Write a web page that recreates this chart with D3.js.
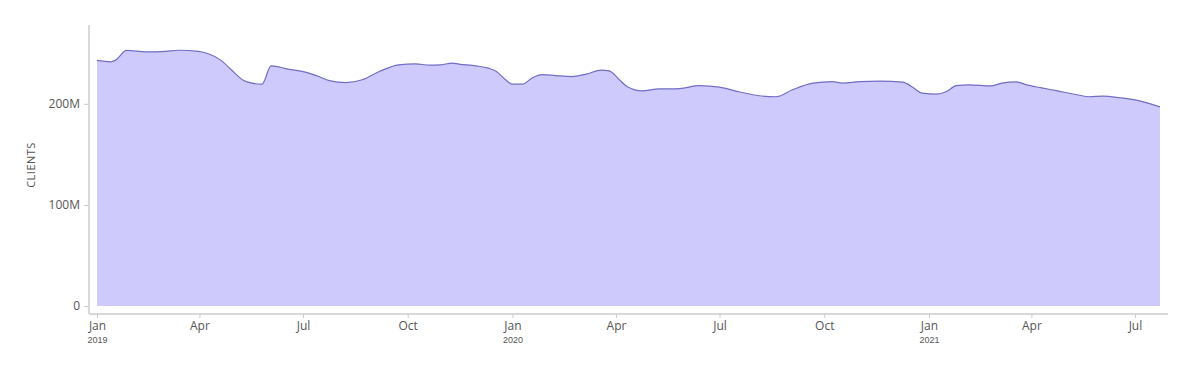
<!DOCTYPE html>
<html>
<head>
<meta charset="utf-8">
<script src="https://cdn.jsdelivr.net/npm/d3@7.9.0/dist/d3.min.js"></script>
<style>
  body { margin: 0; background: #fff; }
  svg { display: block; font-family: "Open Sans", sans-serif; }
  .tick text { fill: #555; }
</style>
</head>
<body>
<div id="chart"></div>
<script>
// Values (clients, millions)
const dates = [
  '2019-01-01', '2019-01-13', '2019-01-17', '2019-01-27', '2019-02-13', '2019-03-02',
  '2019-03-14', '2019-03-31', '2019-04-09', '2019-04-20', '2019-04-29', '2019-05-10',
  '2019-05-17', '2019-05-26', '2019-06-03', '2019-06-18', '2019-07-03', '2019-07-15',
  '2019-07-24', '2019-08-08', '2019-08-22', '2019-09-06', '2019-09-23', '2019-10-08',
  '2019-10-20', '2019-10-30', '2019-11-09', '2019-11-15', '2019-11-30', '2019-12-11',
  '2019-12-18', '2019-12-26', '2020-01-01', '2020-01-10', '2020-01-18', '2020-01-27',
  '2020-02-08', '2020-02-22', '2020-03-06', '2020-03-19', '2020-03-26', '2020-04-04',
  '2020-04-11', '2020-04-24', '2020-05-09', '2020-05-18', '2020-05-27', '2020-06-13',
  '2020-07-01', '2020-07-18', '2020-08-05', '2020-08-20', '2020-09-03', '2020-09-21',
  '2020-10-08', '2020-10-17', '2020-11-01', '2020-11-19', '2020-12-09', '2020-12-17',
  '2020-12-26', '2021-01-08', '2021-01-16', '2021-01-25', '2021-02-05', '2021-02-25',
  '2021-03-06', '2021-03-19', '2021-03-27', '2021-04-10', '2021-04-23', '2021-05-11',
  '2021-05-22', '2021-06-03', '2021-06-18', '2021-07-05', '2021-07-23'
];
const clients = [
  243, 241.6, 243, 252.8, 251.5, 252,
  253, 252, 249.5, 243, 233.7, 223,
  220.5, 219.5, 237.6, 234.3, 231.4, 227,
  223, 221, 223.8, 232, 238.6, 239.6,
  238.3, 238.6, 240.3, 239.3, 237.6, 235.3,
  232, 223.8, 219.5, 219.5, 225.4, 229,
  228, 227, 229.4, 233.4, 232.7, 223.8,
  217, 212.9, 214.9, 214.9, 215.1, 218,
  216.5, 212, 208, 207, 213.9, 220.5,
  222, 220.5, 222, 222.5, 221.5, 217,
  210.6, 209.6, 212, 218, 218.8, 217.8,
  220.5, 221.8, 219, 215.8, 213, 209,
  207, 207.7, 206, 203, 197
];
const yTicks = [0, 100, 200];
const yTickLabels = ['0', '100M', '200M'];
const yLabel = 'CLIENTS';

const data = dates.map((d, i) => ({ date: new Date(d + 'T00:00'), value: clients[i] }));

const W = 1194, H = 369;
const axisX = 89, axisY = 314;

const svg = d3.select('#chart').append('svg')
  .attr('width', W)
  .attr('height', H);

const x = d3.scaleTime()
  .domain(d3.extent(data, d => d.date))
  .range([97, 1160]);

const y = d3.scaleLinear()
  .domain([0, 278])
  .range([306, 25]);

// Area
const area = d3.area()
  .x(d => x(d.date))
  .y0(y(0))
  .y1(d => y(d.value))
  .curve(d3.curveMonotoneX);

const line = d3.line()
  .x(d => x(d.date))
  .y(d => y(d.value))
  .curve(d3.curveMonotoneX);

svg.append('path')
  .datum(data)
  .attr('d', area)
  .attr('fill', '#cecbfc');

svg.append('path')
  .datum(data)
  .attr('d', line)
  .attr('fill', 'none')
  .attr('stroke', '#716ec4')
  .attr('stroke-width', 1.2);

// Y axis
const yAxis = svg.append('g')
  .attr('transform', `translate(${axisX},0)`)
  .call(d3.axisLeft(y)
    .tickValues(yTicks)
    .tickFormat((d, i) => yTickLabels[i])
    .tickSize(5)
    .tickPadding(4));
yAxis.select('.domain').remove();
yAxis.selectAll('.tick line').attr('stroke', '#ccc');
yAxis.selectAll('.tick text').attr('font-size', 12).attr('font-family', '"Open Sans", sans-serif');

svg.append('line')
  .attr('x1', axisX).attr('x2', axisX)
  .attr('y1', 25).attr('y2', axisY)
  .attr('stroke', '#ccc').attr('stroke-width', 1.5);

svg.append('text')
  .attr('transform', `translate(35,165) rotate(-90)`)
  .attr('text-anchor', 'middle')
  .attr('fill', '#555')
  .attr('font-size', 11)
  .attr('letter-spacing', 0.5)
  .text(yLabel);

// X axis
const monthFmt = d3.timeFormat('%b');
const xAxis = svg.append('g')
  .attr('transform', `translate(0,${axisY})`)
  .call(d3.axisBottom(x)
    .ticks(d3.timeMonth.every(3))
    .tickFormat(monthFmt)
    .tickSize(4)
    .tickPadding(3));
xAxis.select('.domain').remove();
xAxis.selectAll('.tick line').attr('stroke', '#ccc');
xAxis.selectAll('.tick text').attr('font-size', 12).attr('font-family', '"Open Sans", sans-serif');

xAxis.selectAll('.tick')
  .filter(d => d.getMonth() === 0)
  .append('text')
  .attr('y', 23)
  .attr('dy', '0.71em')
  .attr('font-size', 9)
  .attr('text-anchor', 'middle')
  .attr('fill', '#555')
  .text(d => d.getFullYear());

svg.append('line')
  .attr('x1', axisX).attr('x2', 1168)
  .attr('y1', axisY).attr('y2', axisY)
  .attr('stroke', '#ccc').attr('stroke-width', 1.5);
</script>
</body>
</html>
